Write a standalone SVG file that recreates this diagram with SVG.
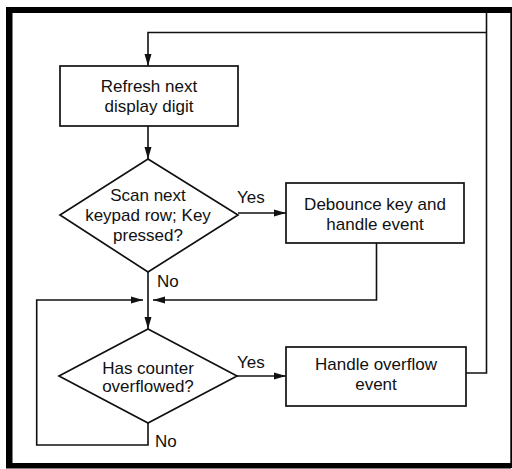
<svg xmlns="http://www.w3.org/2000/svg" width="512" height="469" viewBox="0 0 512 469">
  <style>
    .shape { fill: #ffffff; stroke: #111111; stroke-width: 1.7; }
    .wire { fill: none; stroke: #111111; stroke-width: 1.6; }
    .label { font-family: "Liberation Sans", Arial, Helvetica, sans-serif; font-size: 17px; fill: #111111; }
    .mid { text-anchor: middle; }
  </style>
  <defs>
    <marker id="arrow" markerUnits="userSpaceOnUse" markerWidth="12" markerHeight="8" refX="12" refY="4" orient="auto">
      <path d="M0,0.5 L12,4 L0,7.5 z" fill="#111111"/>
    </marker>
  </defs>

  <rect width="512" height="469" fill="#ffffff"/>

  <!-- page frame -->
  <g id="frame" fill="#000000">
    <rect x="6" y="7" width="505" height="6"/>
    <rect x="6" y="7" width="6.5" height="461"/>
    <rect x="6" y="463" width="505" height="5.5"/>
    <rect x="510.3" y="7" width="1.7" height="461"/>
  </g>

  <!-- connectors -->
  <g id="connectors">
    <!-- overflow handler back to the top of the loop -->
    <path class="wire" d="M466,373 H486.5 V12"/>
    <path class="wire" d="M486.5,32.5 H148 V66" marker-end="url(#arrow)"/>
    <!-- refresh to scan -->
    <path class="wire" d="M148,126 V159" marker-end="url(#arrow)"/>
    <!-- scan: yes -->
    <path class="wire" d="M238,213 H286" marker-end="url(#arrow)"/>
    <!-- scan: no, down to counter check -->
    <path class="wire" d="M148,272 V329" marker-end="url(#arrow)"/>
    <!-- debounce back to main line -->
    <path class="wire" d="M376.5,243 V300 H153" marker-end="url(#arrow)"/>
    <!-- counter: yes -->
    <path class="wire" d="M237,376 H286" marker-end="url(#arrow)"/>
    <!-- counter: no, loop back -->
    <path class="wire" d="M148,423 V445 H36.7 V300 H143" marker-end="url(#arrow)"/>
  </g>

  <g id="refresh">
    <rect class="shape" x="60" y="66" width="178" height="60"/>
    <text class="label mid" x="149" y="92">Refresh next</text>
    <text class="label mid" x="149" y="112">display digit</text>
  </g>

  <g id="scan">
    <polygon class="shape" points="148,159 238,215 148,272 60,215"/>
    <text class="label mid" x="148" y="201">Scan next</text>
    <text class="label mid" x="148" y="221">keypad row; Key</text>
    <text class="label mid" x="148" y="240.5">pressed?</text>
  </g>

  <g id="debounce">
    <rect class="shape" x="286" y="183" width="178" height="60"/>
    <text class="label mid" x="375" y="210">Debounce key and</text>
    <text class="label mid" x="375" y="230">handle event</text>
  </g>

  <g id="counter">
    <polygon class="shape" points="148,329 237,376 148,423 59,376"/>
    <text class="label mid" x="148" y="373.5">Has counter</text>
    <text class="label mid" x="148" y="392">overflowed?</text>
  </g>

  <g id="overflow">
    <rect class="shape" x="286" y="347" width="180" height="59"/>
    <text class="label mid" x="376" y="370">Handle overflow</text>
    <text class="label mid" x="376" y="390">event</text>
  </g>

  <g id="branch-labels">
    <text class="label" x="237" y="203">Yes</text>
    <text class="label" x="157" y="287">No</text>
    <text class="label" x="237" y="367.5">Yes</text>
    <text class="label" x="155" y="447">No</text>
  </g>
</svg>
